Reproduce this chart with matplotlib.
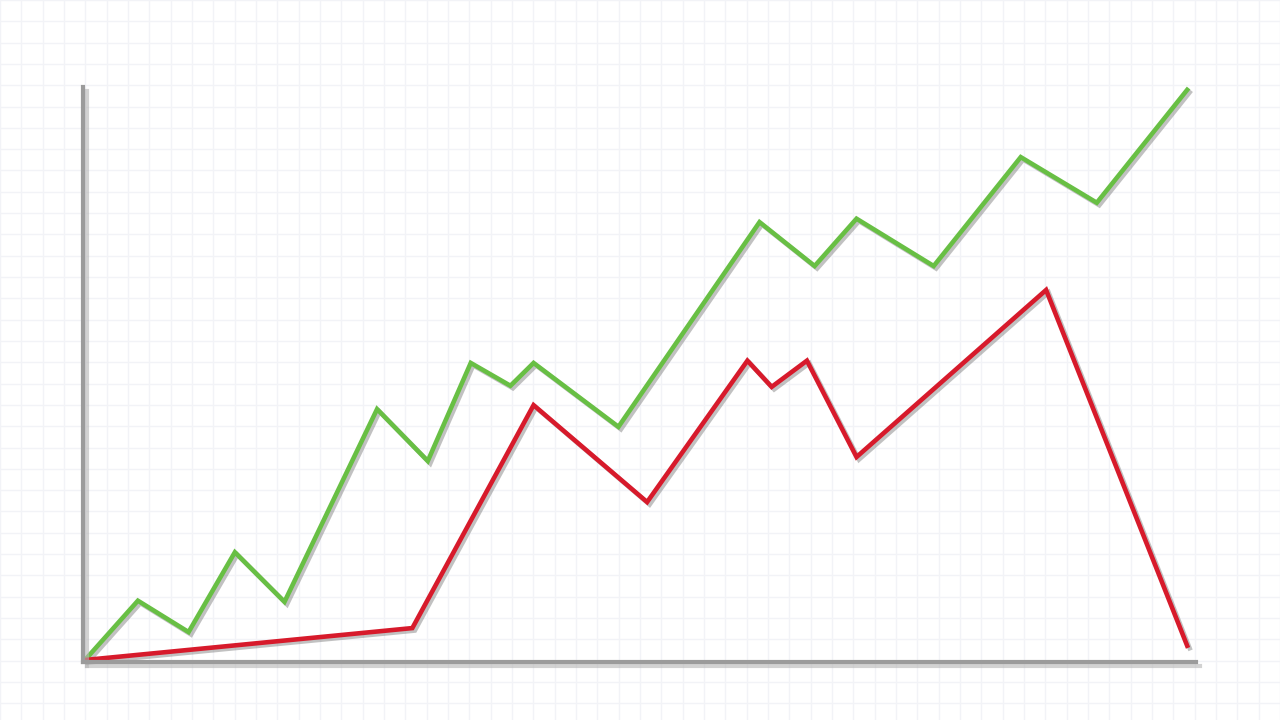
import numpy as np
import matplotlib
matplotlib.use("Agg")
import matplotlib.pyplot as plt
import matplotlib.patheffects as pe

# values (x: 0-100, y: 0-100)
green_x = [0, 4.8, 9.4, 13.6, 18.1, 26.5, 31.1, 35.0, 38.6, 40.7, 48.4,
           61.2, 66.2, 70.0, 77.0, 84.9, 91.8, 100]
green_y = [0, 10.4, 4.9, 18.9, 10.2, 44.0, 34.9, 52.1, 48.1, 52.1, 40.9,
           76.8, 69.1, 77.4, 69.1, 88.2, 80.2, 100]
red_x = [0, 29.7, 40.7, 51.0, 60.1, 62.3, 65.5, 70.0, 87.2, 100]
red_y = [0, 5.6, 44.7, 27.7, 52.5, 47.9, 52.5, 35.6, 64.9, 2.5]

GREEN = "#68bf44"
RED = "#d71a2b"
AXIS = "#9b9b9b"

fig = plt.figure(figsize=(12.8, 7.2), dpi=100)
fig.patch.set_facecolor("white")

# faint background grid over the whole picture
bg = fig.add_axes([0, 0, 1, 1])
bg.set_xlim(0, 1280)
bg.set_ylim(720, 0)
bg.set_xticks(np.arange(-4, 1280, 21.4))
bg.set_yticks(np.arange(-3, 720, 21.4))
bg.grid(True, color="#f2f3f7", lw=1.0)
bg.tick_params(length=0, labelbottom=False, labelleft=False)
for s in bg.spines.values():
    s.set_visible(False)

ax = fig.add_axes([83 / 1280, (720 - 662) / 720, 1113 / 1280, 575 / 720])
ax.patch.set_alpha(0)
ax.set_xlim(-0.18, 100.8)
ax.set_ylim(-0.35, 100.5)
ax.set_xticks([])
ax.set_yticks([])
for side in ["top", "right"]:
    ax.spines[side].set_visible(False)
for side in ["left", "bottom"]:
    ax.spines[side].set_color(AXIS)
    ax.spines[side].set_linewidth(3)
    ax.spines[side].set_path_effects([
        pe.SimpleLineShadow(offset=(3, -3), shadow_color="#b5b5b5", alpha=0.6),
        pe.Normal(),
    ])

shadow = [pe.SimpleLineShadow(offset=(1.8, -1.8), shadow_color="#666666", alpha=0.4),
          pe.Normal()]
ax.plot(green_x, green_y, color=GREEN, lw=3.3, clip_on=False,
        solid_joinstyle="miter", path_effects=shadow)
ax.plot(red_x, red_y, color=RED, lw=3.3, clip_on=False,
        solid_joinstyle="miter", path_effects=shadow)

fig.savefig("out.png", dpi=100)
